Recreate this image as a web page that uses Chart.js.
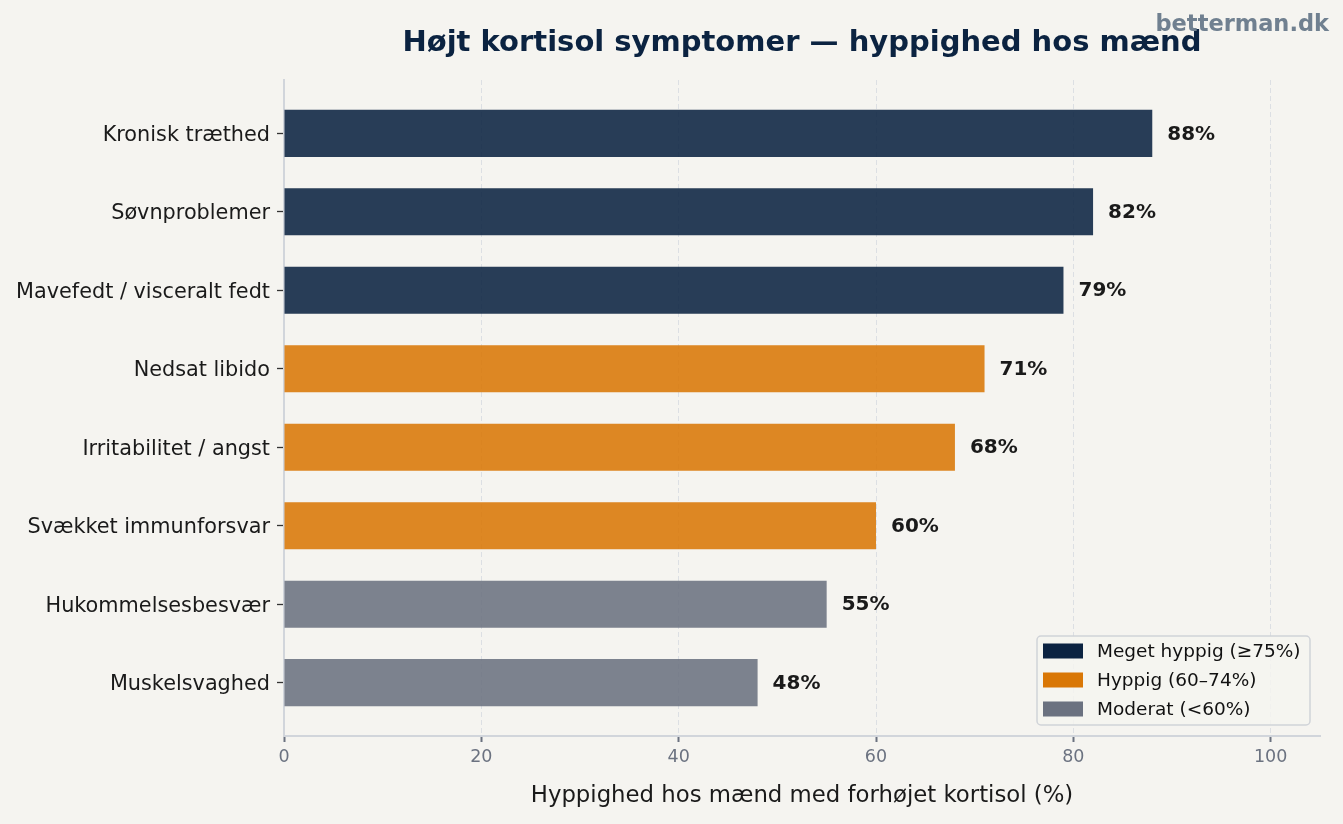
<!DOCTYPE html>
<html>
<head>
<meta charset="utf-8">
<script src="https://cdn.jsdelivr.net/npm/chart.js@4/dist/chart.umd.min.js"></script>
<style>
  html, body { margin: 0; padding: 0; background: #f5f4f0; }
  canvas { display: block; }
</style>
</head>
<body>
<canvas id="chart" width="1343" height="824"></canvas>
<script>
const symptoms = [
  "Kronisk træthed",
  "Søvnproblemer",
  "Mavefedt / visceralt fedt",
  "Nedsat libido",
  "Irritabilitet / angst",
  "Svækket immunforsvar",
  "Hukommelsesbesvær",
  "Muskelsvaghed"
];
const frequency = [88, 82, 79, 71, 68, 60, 55, 48];
const tierOf = [0, 0, 0, 1, 1, 1, 2, 2];
const tierNames = ["Meget hyppig (≥75%)", "Hyppig (60–74%)", "Moderat (<60%)"];
const tierColors = ["#0b2341", "#d97706", "#6b7280"];
const xTicks = [0, 20, 40, 60, 80, 100];

const FONT = "'DejaVu Sans', sans-serif";
const BG = "#f5f4f0";

function withAlpha(hex, a) {
  const n = parseInt(hex.slice(1), 16);
  return `rgba(${(n >> 16) & 255}, ${(n >> 8) & 255}, ${n & 255}, ${a})`;
}

const background = {
  id: "background",
  beforeDraw(chart) {
    const ctx = chart.ctx;
    ctx.save();
    ctx.fillStyle = BG;
    ctx.fillRect(0, 0, chart.width, chart.height);
    ctx.restore();
  }
};

const headings = {
  id: "headings",
  afterDraw(chart) {
    const { ctx, chartArea } = chart;
    ctx.save();
    ctx.textBaseline = "middle";
    ctx.textAlign = "center";
    ctx.fillStyle = "#0b2341";
    ctx.font = `bold 29px ${FONT}`;
    ctx.fillText("Højt kortisol symptomer — hyppighed hos mænd", (chartArea.left + chartArea.right) / 2, 43);
    ctx.textAlign = "right";
    ctx.fillStyle = "#708090";
    ctx.font = `bold 22.5px ${FONT}`;
    ctx.fillText("betterman.dk", 1329, 25);
    ctx.restore();
  }
};

const valueLabels = {
  id: "valueLabels",
  afterDatasetsDraw(chart) {
    const ctx = chart.ctx;
    const meta = chart.getDatasetMeta(0);
    ctx.save();
    ctx.font = `bold 20px ${FONT}`;
    ctx.fillStyle = "#1a1a1a";
    ctx.textAlign = "left";
    ctx.textBaseline = "middle";
    meta.data.forEach((bar, i) => {
      ctx.fillText(frequency[i] + "%", bar.x + 15, bar.y + 1);
    });
    ctx.restore();
  }
};

// matplotlib-style legend box in the lower right corner of the plot
const tierLegend = {
  id: "tierLegend",
  afterDraw(chart) {
    const { ctx, chartArea } = chart;
    const w = 273, h = 89;
    const x = chartArea.right - 10 - w;
    const y = chartArea.bottom - 11 - h;
    ctx.save();
    ctx.fillStyle = "rgba(245, 244, 240, 0.85)";
    ctx.strokeStyle = "#d0d3d8";
    ctx.lineWidth = 1.5;
    ctx.beginPath();
    ctx.roundRect(x, y, w, h, 4);
    ctx.fill();
    ctx.stroke();
    ctx.font = `18.5px ${FONT}`;
    ctx.textBaseline = "middle";
    ctx.textAlign = "left";
    tierNames.forEach((name, i) => {
      const cy = y + 15 + i * 29;
      ctx.fillStyle = tierColors[i];
      ctx.fillRect(x + 6, cy - 7.5, 40, 15);
      ctx.fillStyle = "#111111";
      ctx.fillText(name, x + 60, cy + 1);
    });
    ctx.restore();
  }
};

new Chart(document.getElementById("chart"), {
  type: "bar",
  data: {
    datasets: [{
      data: frequency.map((v, i) => ({ x: v, y: i })),
      backgroundColor: tierOf.map(t => withAlpha(tierColors[t], 0.88)),
      categoryPercentage: 1,
      barPercentage: 0.6,
      borderWidth: 0
    }]
  },
  options: {
    indexAxis: "y",
    responsive: false,
    animation: false,
    devicePixelRatio: 1,
    layout: { padding: { top: 80, right: 23, left: 0, bottom: 0 } },
    plugins: {
      legend: { display: false },
      tooltip: { enabled: false }
    },
    scales: {
      x: {
        type: "linear",
        min: 0,
        max: 105,
        afterFit(scale) { scale.height = 88; },
        afterBuildTicks(scale) { scale.ticks = xTicks.map(v => ({ value: v })); },
        grid: {
          color: "#dcdfe3",
          lineWidth: 1,
          tickColor: "#6b7280",
          tickWidth: 2,
          tickLength: 6
        },
        border: { color: "#d1d5db", width: 2, dash: [5, 3] },
        ticks: {
          color: "#6b7280",
          font: { family: FONT, size: 17.5 },
          padding: 5
        },
        title: {
          display: true,
          text: "Hyppighed hos mænd med forhøjet kortisol (%)",
          color: "#1a1a1a",
          font: { family: FONT, size: 22.8 },
          padding: { top: 0, bottom: 14 }
        }
      },
      y: {
        type: "linear",
        min: -0.68,
        max: 7.68,
        reverse: true,
        offset: false,
        afterFit(scale) { scale.width = 284; },
        afterBuildTicks(scale) { scale.ticks = symptoms.map((s, i) => ({ value: i })); },
        grid: {
          offset: false,
          drawOnChartArea: false,
          tickColor: "#333333",
          tickWidth: 1.3,
          tickLength: 7
        },
        border: { color: "#d1d5db", width: 2 },
        ticks: {
          autoSkip: false,
          color: "#1a1a1a",
          font: { family: FONT, size: 20.8 },
          padding: 7,
          labelOffset: 2,
          callback: (v) => symptoms[v]
        }
      }
    }
  },
  plugins: [background, valueLabels, headings, tierLegend]
});
</script>
</body>
</html>
